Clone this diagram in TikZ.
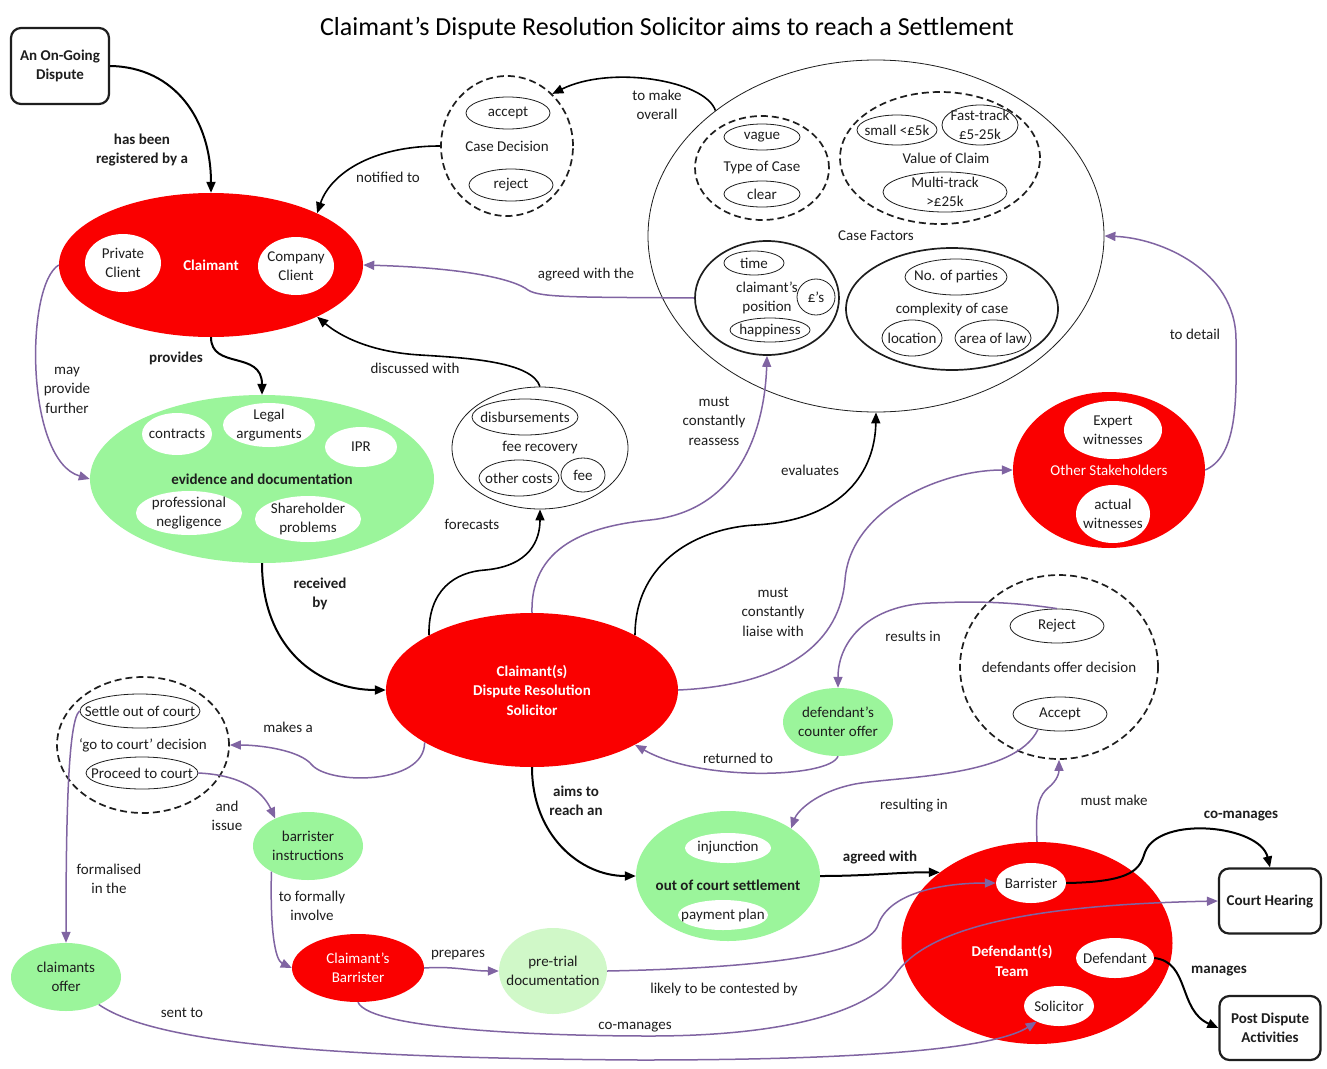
\documentclass[tikz,border=0pt]{standalone}
\usepackage{fontspec}
\setmainfont{Carlito}
\usetikzlibrary{shapes.geometric,arrows.meta}
\definecolor{myred}{RGB}{250,0,0}
\definecolor{mygreen}{RGB}{155,245,155}
\definecolor{ltgreen}{RGB}{208,248,200}
\definecolor{mypurple}{RGB}{128,100,162}
\definecolor{ink}{RGB}{30,30,30}
\newcommand\fsz{\fontsize{15}{19.5}\selectfont}
\newcommand\EE[7][]{%
  \node[#2, minimum width=#5pt, minimum height=#6pt] (#3) at (#4) {};
  \node[txt,#1] (#3t) at (#3.center) {#7};}
\tikzset{
 txt/.style={align=center, inner sep=0pt, text=ink, font=\fsz},
 ell/.style={ellipse, inner sep=0pt},
 redn/.style={ell, fill=myred},
 grn/.style={ell, fill=mygreen},
 lgrn/.style={ell, fill=ltgreen},
 wht/.style={ell, fill=white},
 thn/.style={ell, draw=ink, line width=0.8pt},
 thk/.style={ell, draw=ink, line width=1.7pt},
 dsh/.style={ell, draw=ink, line width=1.7pt, dash pattern=on 7pt off 4pt},
 boxn/.style={draw=ink, line width=2.2pt, rounded corners=10pt, align=center, font=\fsz\bfseries, text=ink},
 arrtip/.style={-{Triangle[length=11pt,width=9pt]}},
 blk/.style={draw=black, line width=2pt, arrtip},
 pur/.style={draw=mypurple, line width=1.5pt, arrtip},
 lab/.style={align=center, text=ink, font=\fsz, inner sep=1pt},
 blab/.style={lab, font=\fsz\bfseries},
}
\begin{document}
\begin{tikzpicture}[x=1pt,y=-1pt]
\useasboundingbox[fill=white] (0,0) rectangle (1327,1068);
\node[font=\fontsize{26}{30}\selectfont, text=black] (title) at (667,28) {Claimant’s Dispute Resolution Solicitor aims to reach a Settlement};

% boxes
\node[boxn, minimum width=98pt, minimum height=76pt] (disp) at (60,66) {An On-Going\\Dispute};
\node[boxn, minimum width=102pt, minimum height=65pt] (ch) at (1270,901) {Court Hearing};
\node[boxn, minimum width=101pt, minimum height=64pt] (pda) at (1270,1028) {Post Dispute\\Activities};

% Claimant
\EE[font=\fsz\bfseries, text=white]{redn}{claim}{211,265}{304}{144}{Claimant}
\EE{wht}{pc}{123,263}{76}{58}{Private\\Client}
\EE{wht}{cc}{296,266}{76}{58}{Company\\Client}

% Evidence
\EE[font=\fsz\bfseries]{grn}{evid}{262,479}{344}{168}{evidence and documentation}
\EE{wht}{contr}{177,434}{70}{42}{contracts}
\EE{wht}{legal}{269,425}{92}{44}{Legal\\arguments}
\EE{wht}{ipr}{361,447}{72}{40}{IPR}
\EE{wht}{prof}{189,513}{106}{44}{professional\\negligence}
\EE{wht}{share}{308,519}{106}{46}{Shareholder\\problems}

% Case decision
\EE{dsh}{casedec}{507,146}{132}{140}{Case Decision}
\EE{thn}{accd}{508,113}{84}{32}{accept}
\EE{thn}{rejd}{511,185}{84}{32}{reject}

% Case factors
\EE{ell, draw=ink, line width=0.8pt}{cf}{876,236}{456}{352}{Case Factors}
\EE{dsh}{toc}{762,168}{134}{104}{Type of Case}
\EE{thn}{vague}{762,137}{76}{26}{vague}
\EE{thn}{clear}{762,194}{76}{26}{clear}
\EE[xshift=6pt]{dsh}{voc}{940,158}{200}{132}{Value of Claim}
\EE{thn}{small}{897,130}{80}{30}{small <£5k}
\EE{thn}{fast}{980,125}{76}{40}{Fast-track\\£5-25k}
\EE{thn}{multi}{945,192}{124}{40}{Multi-track\\>£25k}
\EE{thk}{cpos}{767,298}{144}{114}{claimant’s\\position}
\EE{thn}{time}{754,263}{60}{24}{time}
\EE{thn}{pounds}{816,297}{38}{36}{£’s}
\EE{thn}{happy}{770,330}{80}{24}{happiness}
\EE{thk}{cplx}{952,309}{212}{122}{complexity of case}
\EE{thn}{parties}{956,277}{102}{36}{No. of parties}
\EE{thn}{loc}{912,338}{60}{36}{location}
\EE{thn}{aol}{993,338}{76}{36}{area of law}

% fee recovery
\EE{thn}{fee}{540,448}{176}{122}{fee recovery}
\EE{thn}{disb}{525,417}{106}{36}{disbursements}
\EE{thn}{othc}{519,478}{80}{36}{other costs}
\EE{thn}{feen}{583,475}{44}{34}{fee}

% Other stakeholders
\EE[text=white]{redn}{os}{1109,470}{192}{156}{Other Stakeholders}
\EE{wht}{expw}{1113,430}{98}{58}{Expert\\witnesses}
\EE{wht}{actw}{1113,514}{74}{58}{actual\\witnesses}

% Solicitor
\EE[font=\fsz\bfseries, text=white]{redn}{sol}{532,690}{292}{154}{Claimant(s)\\Dispute Resolution\\Solicitor}

% go to court decision
\EE{dsh}{god}{143,745}{172}{136}{‘go to court’ decision}
\EE{thn}{settle}{140,711}{120}{34}{Settle out of court}
\EE{thn}{ptc}{142,773}{112}{32}{Proceed to court}

% defendants offer decision
\EE{dsh}{dod}{1059,667}{198}{184}{defendants offer decision}
\EE{thn}{rej}{1057,626}{94}{34}{Reject}
\EE{thn}{acc}{1060,714}{94}{34}{Accept}

% green / red small nodes
\EE{grn}{dco}{838,722}{110}{68}{defendant’s\\counter offer}
\EE{grn}{bi}{308,846}{110}{68}{barrister\\instructions}
\EE{grn}{co}{66,977}{110}{68}{claimants\\offer}
\EE[text=white]{redn}{cb}{358,968}{132}{68}{Claimant’s\\Barrister}
\EE{lgrn}{ptd}{553,971}{108}{86}{pre-trial\\documentation}

% out of court settlement
\EE[font=\fsz\bfseries, yshift=-9pt]{grn}{ocs}{728,876}{184}{130}{out of court settlement}
\EE{wht}{inj}{728,848}{86}{30}{injunction}
\EE{wht}{pay}{723,915}{90}{30}{payment plan}

% Defendant team
\EE[font=\fsz\bfseries, text=white, xshift=-25pt, yshift=-18pt]{redn}{dteam}{1037,943}{271}{202}{Defendant(s)\\Team}
\EE{wht}{barr}{1031,883}{70}{40}{Barrister}
\EE{wht}{defn}{1115,958}{78}{40}{Defendant}
\EE{wht}{solc}{1059,1006}{70}{40}{Solicitor}

% ---------- connectors ----------
\draw[blk] (disp.east) .. controls (175,67) and (211,120) .. (claim.north);
\node[blab] (l1) at (142,150) {has been\\registered by a};

\draw[blk, line width=1.6pt] (casedec.west) .. controls (370,146) and (330,175) .. (claim.26);
\node[lab] (l2) at (388,177) {notified to};

\draw[blk, line width=1.6pt] (cf.142) .. controls (705,80) and (610,65) .. (casedec.49);
\node[lab] (l3) at (657,105) {to make\\overall};

\draw[pur] (cpos.west) .. controls (580,297) and (540,298) .. (528,290) .. controls (515,280) and (470,268) .. (claim.east);
\node[lab] (l4) at (586,275) {agreed with the};

\draw[blk, line width=1.6pt] (fee.north) .. controls (532,362) and (470,358) .. (420,355) .. controls (370,352) and (340,336) .. (claim.-26);
\node[lab] (l5) at (415,368) {discussed with};

\draw[blk] (claim.south) .. controls (211,370) and (262,350) .. (evid.north);
\node[blab] (l6) at (176,358) {provides};

\draw[pur] (claim.west) .. controls (25,285) and (25,460) .. (evid.west);
\node[lab] (l7) at (67,390) {may\\provide\\further};

\draw[blk] (evid.south) .. controls (262,650) and (320,690) .. (sol.west);
\node[blab] (l8) at (320,594) {received\\by};

\draw[blk, line width=1.6pt] (sol.152) .. controls (428,590) and (455,572) .. (485,570) .. controls (530,566) and (540,540) .. (fee.south);
\node[lab] (l9) at (472,524) {forecasts};

\draw[pur] (sol.north) .. controls (530,540) and (600,525) .. (650,520) .. controls (745,510) and (765,420) .. (cpos.south);
\node[lab] (l10) at (714,421) {must\\constantly\\reassess};

\draw[blk, line width=1.6pt] (sol.28) .. controls (635,560) and (700,528) .. (755,525) .. controls (845,520) and (875,470) .. (cf.south);
\node[lab] (l11) at (810,470) {evaluates};

\draw[pur] (sol.east) .. controls (790,685) and (840,640) .. (845,580) .. controls (850,510) and (940,470) .. (os.west);
\node[lab] (l12) at (773,612) {must\\constantly\\liaise with};

\draw[pur] (os.east) .. controls (1240,455) and (1236,390) .. (1236,340) .. controls (1236,270) and (1160,238) .. (cf.east);
\node[lab] (l13) at (1195,334) {to detail};

\draw[pur] (sol.206) .. controls (425,785) and (330,785) .. (312,765) .. controls (300,750) and (260,745) .. (god.east);
\node[lab] (l14) at (288,727) {makes a};

\draw[pur] (rej.north) .. controls (1000,600) and (960,602) .. (930,603) .. controls (870,605) and (838,640) .. (dco.north);
\node[lab] (l15) at (913,636) {results in};

\draw[pur] (dco.south) .. controls (830,778) and (700,782) .. (sol.-28);
\node[lab] (l16) at (738,758) {returned to};

\draw[blk] (sol.south) .. controls (532,835) and (580,876) .. (ocs.west);
\node[blab] (l17) at (576,801) {aims to\\reach an};

\draw[pur] (acc.215) .. controls (1015,778) and (900,776) .. (855,784) .. controls (815,792) and (797,812) .. (ocs.37);
\node[lab] (l18) at (914,806) {resulting in};

\draw[blk] (ocs.east) .. controls (870,876) and (900,872) .. (dteam.144);
\node[blab] (l19) at (880,857) {agreed with};

\draw[pur] (dteam.north) .. controls (1035,805) and (1040,795) .. (1048,788) .. controls (1058,780) and (1059,772) .. (dod.south);
\node[lab] (l20) at (1114,800) {must make};

\draw[blk] (barr.east) .. controls (1135,882) and (1140,868) .. (1145,852) .. controls (1160,815) and (1260,825) .. (ch.north);
\node[blab] (l21) at (1241,816) {co-manages};

\draw[blk] (defn.east) .. controls (1190,962) and (1178,1010) .. (pda.west);
\node[blab] (l22) at (1219,971) {manages};

\draw[pur] (settle.west) .. controls (68,720) and (66,820) .. (co.north);
\node[lab] (l23) at (109,879) {formalised\\in the};

\draw[pur] (ptc.east) .. controls (240,775) and (262,790) .. (bi.140);
\node[lab] (l24) at (227,816) {and\\issue};

\draw[pur] (bi.215) .. controls (270,930) and (275,960) .. (cb.west);
\node[lab] (l25) at (312,906) {to formally\\involve};

\draw[pur] (cb.east) .. controls (455,966) and (470,971) .. (ptd.west);
\node[lab] (l26) at (458,955) {prepares};

\draw[pur] (ptd.east) .. controls (760,968) and (868,955) .. (878,925) .. controls (890,890) and (950,883) .. (barr.west);
\node[lab] (l27) at (724,989) {likely to be contested by};

\draw[pur] (cb.south) .. controls (370,1030) and (550,1036) .. (650,1036) .. controls (790,1036) and (870,1010) .. (895,975) .. controls (925,930) and (1020,905) .. (ch.west);
\node[lab] (l28) at (635,1027) {co-manages};

\draw[pur] (co.-40) .. controls (150,1040) and (300,1058) .. (640,1060) .. controls (900,1060) and (1000,1045) .. (solc.215);
\node[lab] (l29) at (182,1013) {sent to};
\end{tikzpicture}
\end{document}
